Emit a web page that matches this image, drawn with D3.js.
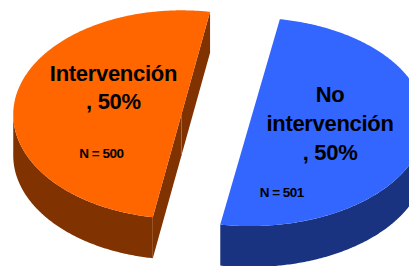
<!DOCTYPE html>
<html><head><meta charset="utf-8">
<script src="https://cdn.jsdelivr.net/npm/d3@7"></script>
<style>html,body{margin:0;padding:0;background:#fff;overflow:hidden}</style>
</head><body>
<svg id="chart" width="409" height="266"></svg>
<script>
// ---- data ----
const categories = ["Intervención", "No intervención"];
const percents = [50, 50];
const counts = [500, 501];
const topColors = ["#FF6600", "#3366FF"];
const sideColors = ["#803300", "#1A3380"];

// ---- layout ----
const W = 409, H = 266;
const svg = d3.select("#chart");
const rxs = [168.2, 175], ry = 104.2, depth = 41;
const base = {x: 215.75, y: 118.2};
const explode = 0.207;
const rad = d => d * Math.PI / 180;
const startA = rad(189.8);

const pie = d3.pie().sort(null).value(d => d.v)
  .startAngle(startA).endAngle(startA + 2 * Math.PI);
const arcs = pie(categories.map((c, i) => ({c, v: percents[i], n: counts[i], i})));

const line = d3.line();

// label layout (offsets relative to slice centre)
const labelLayout = [
  {dx: -68, dy: -33.3, lh: 27.3, ndx: -80, ndy: 43},
  {dx: 80, dy: -20.3, lh: 29.3, ndx: 31.7, ndy: 75.3}
];

arcs.forEach(d => {
  const i = d.data.i;
  const rx = rxs[i];
  const m = (d.startAngle + d.endAngle) / 2;
  const c = {x: base.x + 168.2 * Math.sin(m) * explode, y: base.y - ry * Math.cos(m) * explode};
  const P = (a, dz) => [c.x + rx * Math.sin(a), c.y - ry * Math.cos(a) + (dz || 0)];
  const arcPts = (a0, a1, dz) => {
    const n = Math.max(2, Math.ceil(Math.abs(a1 - a0) / 0.01));
    return d3.range(n + 1).map(k => P(a0 + (a1 - a0) * k / n, dz));
  };
  const g = svg.append("g");
  const a0 = d.startAngle, a1 = d.endAngle;

  // cut faces
  const faces = [];
  if (-Math.sin(a0) > 0) faces.push(a0);
  if (Math.sin(a1) > 0) faces.push(a1);
  faces.forEach(a => {
    const p = P(a), q = P(a, depth);
    g.append("path").attr("fill", sideColors[i])
      .attr("d", line([[c.x, c.y], p, q, [c.x, c.y + depth]]) + "Z");
  });
  if (faces.length === 2) {
    g.append("line").attr("x1", c.x).attr("x2", c.x)
      .attr("y1", c.y).attr("y2", c.y + depth)
      .attr("stroke", "#b0683a").attr("stroke-width", 0.8);
  }

  // outer wall (front part)
  for (let k = -1; k <= 2; k++) {
    const lo = Math.max(a0, Math.PI / 2 + 2 * Math.PI * k);
    const hi = Math.min(a1, 3 * Math.PI / 2 + 2 * Math.PI * k);
    if (hi > lo) {
      const top = arcPts(lo, hi, 0);
      const bot = arcPts(hi, lo, depth);
      g.append("path").attr("fill", sideColors[i])
        .attr("d", line(top.concat(bot)) + "Z");
    }
  }

  // top face
  g.append("path").attr("fill", topColors[i])
    .attr("d", line([[c.x, c.y]].concat(arcPts(a0, a1, 0))) + "Z");

  // labels
  const L = labelLayout[i];
  const words = d.data.c.split(" ");
  const lines = words.concat([", " + d.data.v + "%"]);
  const t = g.append("text")
    .attr("font-family", "'Liberation Sans', Arial, sans-serif")
    .attr("font-weight", "bold").attr("font-size", 22)
    .attr("letter-spacing", -0.3)
    .attr("text-anchor", "middle").attr("fill", "#000");
  lines.forEach((s, j) => {
    t.append("tspan").attr("x", c.x + L.dx).attr("y", c.y + L.dy + j * L.lh).text(s);
  });
  g.append("text")
    .attr("font-family", "'Liberation Sans', Arial, sans-serif")
    .attr("font-weight", "bold").attr("font-size", 13.5)
    .attr("letter-spacing", -0.5)
    .attr("text-anchor", "middle").attr("fill", "#000")
    .attr("x", c.x + L.ndx).attr("y", c.y + L.ndy)
    .text("N = " + d.data.n);
});
</script>
</body></html>
